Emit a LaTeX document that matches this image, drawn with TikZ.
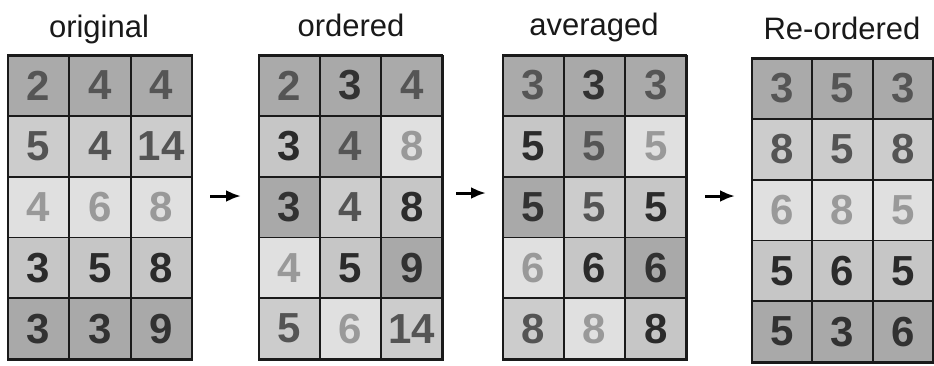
\documentclass[tikz,border=0pt]{standalone}
\usepackage{fontspec}
\setmainfont{Liberation Sans}
\usetikzlibrary{arrows.meta}
\definecolor{fA}{HTML}{AAAAAA}
\definecolor{tA}{HTML}{555555}
\definecolor{fB}{HTML}{CCCCCC}
\definecolor{tB}{HTML}{545454}
\definecolor{fC}{HTML}{E0E0E0}
\definecolor{tC}{HTML}{999999}
\definecolor{fD}{HTML}{C6C6C6}
\definecolor{tD}{HTML}{2B2B2B}
\definecolor{fE}{HTML}{A9A9A9}
\definecolor{tE}{HTML}{323232}
\definecolor{gridline}{HTML}{1A1A1A}
\tikzset{
  cell/.style={draw=gridline, line width=1.8pt, inner sep=0pt, anchor=center,
    font=\fontsize{42}{42}\selectfont\bfseries},
  cA/.style={cell, fill=fA, text=tA},
  cB/.style={cell, fill=fB, text=tB},
  cC/.style={cell, fill=fC, text=tC},
  cD/.style={cell, fill=fD, text=tD},
  cE/.style={cell, fill=fE, text=tE},
  title/.style={font=\fontsize{31}{31}\selectfont, anchor=base, text=black!90},
  outer/.style={draw=gridline, line width=2.4pt},
  arr/.style={-{Latex[length=15pt,width=12pt]}, line width=3pt, black}
}
\newcommand\drawgrid[5]{%
  \foreach \v/\s [count=\i from 0] in {#5} {
    \pgfmathtruncatemacro\cc{mod(\i,3)}
    \pgfmathtruncatemacro\rr{div(\i,3)}
    \node[c\s, minimum width=#4pt, minimum height=60.8pt] (#1-\rr-\cc)
      at ({#2+(\cc+0.5)*#4}, {#3+(\rr+0.5)*60.8-1}) {\v};
  }
  \draw[outer] (#2,#3) rectangle ({#2+3*#4},{#3+5*60.8});
}
\begin{document}
\begin{tikzpicture}[x=1pt,y=-1pt]
\useasboundingbox (0,0) rectangle (934,365);
% titles
\node[title] (t1) at (99,37) {original};
\node[title] (t2) at (351,36) {ordered};
\node[title] (t3) at (594,35) {averaged};
\node[title] (t4) at (842,39) {Re-ordered};
% grids
\drawgrid{g1}{8}{56}{61.3}{2/A,4/A,4/A,5/B,4/B,14/B,4/C,6/C,8/C,3/D,5/D,8/D,3/E,3/E,9/E}
\drawgrid{g2}{259}{56}{61.1}{2/A,3/E,4/A,3/D,4/A,8/C,3/E,4/B,8/D,4/C,5/D,9/E,5/B,6/C,14/B}
\drawgrid{g3}{503}{56}{61.1}{3/A,3/E,3/A,5/D,5/A,5/C,5/E,5/B,5/D,6/C,6/D,6/E,8/B,8/C,8/D}
\drawgrid{g4}{752}{59}{60.3}{3/A,5/A,3/A,8/B,5/B,8/B,6/C,8/C,5/C,5/D,6/D,5/D,5/E,3/E,6/E}
% arrows
\coordinate (a1s) at (210,196);
\coordinate (a1e) at (241,196);
\coordinate (a2s) at (456,193);
\coordinate (a2e) at (486,193);
\coordinate (a3s) at (705,196);
\coordinate (a3e) at (735,196);
\draw[arr] (a1s) -- (a1e);
\draw[arr] (a2s) -- (a2e);
\draw[arr] (a3s) -- (a3e);
\end{tikzpicture}
\end{document}
